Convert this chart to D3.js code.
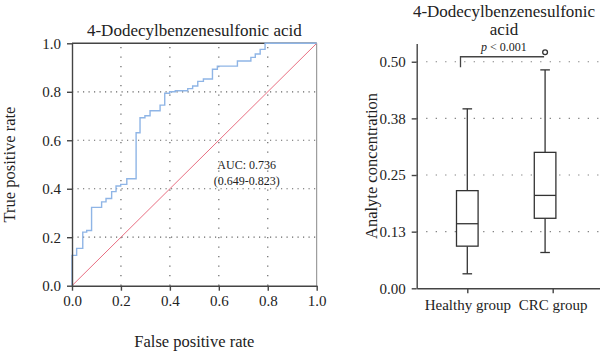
<!DOCTYPE html>
<html>
<head>
<meta charset="utf-8">
<script src="https://cdn.jsdelivr.net/npm/d3@7"></script>
<style>
  body { margin: 0; background: #fff; }
  svg { display: block; font-family: "Liberation Serif", "Times New Roman", serif; }
  .axis path, .axis line { stroke: #444; stroke-width: 1.4; }
  .axis text { font-family: "Liberation Serif", "Times New Roman", serif; font-size: 15px; fill: #222; }
</style>
</head>
<body>
<svg id="chart" width="600" height="354"></svg>
<script>
// ROC curve corners (fpr, tpr), drawn as steps
const rocFpr = [0, 0, 0.019, 0.044, 0.060, 0.080, 0.121, 0.139, 0.162, 0.180, 0.199, 0.224,
  0.262, 0.278, 0.298, 0.319, 0.360, 0.379, 0.399, 0.422, 0.473, 0.493, 0.514, 0.537,
  0.574, 0.594, 0.676, 0.731, 0.749, 0.769, 0.789, 1.0];
const rocTpr = [0, 0.125, 0.154, 0.221, 0.228, 0.323, 0.346, 0.360, 0.388, 0.411, 0.418, 0.441,
  0.631, 0.693, 0.701, 0.722, 0.745, 0.794, 0.800, 0.804, 0.813, 0.824, 0.843, 0.853,
  0.893, 0.906, 0.927, 0.942, 0.956, 0.975, 1.0, 1.0];
const rocTicks = [0, 0.2, 0.4, 0.6, 0.8, 1.0];
const aucLines = ["AUC: 0.736", "(0.649-0.823)"];

// box plot summary per group
const groups = ["Healthy group", "CRC group"];
const whiskLow = [0.032, 0.079];
const q1 = [0.093, 0.1545];
const median = [0.1425, 0.205];
const q3 = [0.2155, 0.300];
const whiskHigh = [0.396, 0.482];
const outliers = [[], [0.521]];
const boxTicks = [0, 0.125, 0.25, 0.375, 0.5];
const pText = "< 0.001";

const title = "4-Dodecylbenzenesulfonic acid";

const svg = d3.select("#chart");

// ---------- ROC panel ----------
const roc = {left: 72, right: 316.7, top: 43.3, bottom: 285.7};
const x = d3.scaleLinear().domain([0, 1]).range([roc.left, roc.right]);
const y = d3.scaleLinear().domain([0, 1]).range([roc.bottom, roc.top]);

const grid = svg.append("g").attr("stroke", "#666").attr("stroke-width", 1.2);
rocTicks.slice(1, -1).forEach(t => {
  grid.append("line").attr("x1", x(t)).attr("x2", x(t)).attr("y1", y(0)).attr("y2", y(1))
    .attr("stroke-dasharray", "1.2,8.3");
  grid.append("line").attr("x1", x(0)).attr("x2", x(1)).attr("y1", y(t)).attr("y2", y(t))
    .attr("stroke-dasharray", "1.2,4.3");
});

// frame top and right
svg.append("line").attr("x1", x(0)).attr("x2", x(1)).attr("y1", y(1)).attr("y2", y(1))
  .attr("stroke", "#444").attr("stroke-width", 1.4);
svg.append("line").attr("x1", x(1)).attr("x2", x(1)).attr("y1", y(0)).attr("y2", y(1))
  .attr("stroke", "#888").attr("stroke-width", 1);

// diagonal
svg.append("line").attr("x1", x(0)).attr("y1", y(0)).attr("x2", x(1)).attr("y2", y(1))
  .attr("stroke", "#e86f82").attr("stroke-width", 1);

const rocData = rocFpr.map((f, i) => ({f: f, t: rocTpr[i]}));
svg.append("path").datum(rocData)
  .attr("fill", "none").attr("stroke", "#8fb5e6").attr("stroke-width", 1.4)
  .attr("d", d3.line().x(d => x(d.f)).y(d => y(d.t)).curve(d3.curveStepAfter));

const fmt1 = d3.format(".1f");
svg.append("g").attr("class", "axis").attr("transform", `translate(0,${roc.bottom})`)
  .call(d3.axisBottom(x).tickValues(rocTicks).tickFormat(fmt1).tickSize(5).tickPadding(5).tickSizeOuter(0));
svg.append("g").attr("class", "axis").attr("transform", `translate(${roc.left},0)`)
  .call(d3.axisLeft(y).tickValues(rocTicks).tickFormat(fmt1).tickSize(5).tickPadding(6).tickSizeOuter(0));
svg.selectAll(".axis .domain").attr("stroke-width", 1.6);

svg.append("text").attr("x", (roc.left + roc.right) / 2).attr("y", 36)
  .attr("text-anchor", "middle").attr("font-size", 17).attr("fill", "#222").text(title);
svg.append("text").attr("x", (roc.left + roc.right) / 2).attr("y", 347)
  .attr("text-anchor", "middle").attr("font-size", 16.5).attr("fill", "#222").text("False positive rate");
svg.append("text").attr("transform", `translate(15,${(roc.top + roc.bottom) / 2}) rotate(-90)`)
  .attr("text-anchor", "middle").attr("font-size", 16.5).attr("fill", "#222").text("True positive rate");
aucLines.forEach((s, i) => {
  svg.append("text").attr("x", 246.7).attr("y", 169 + i * 15.5)
    .attr("text-anchor", "middle").attr("font-size", 12).attr("fill", "#222").text(s);
});

// ---------- box panel ----------
const bp = {left: 416.7, right: 600, top: 43.6, bottom: 288.3};
const by = d3.scaleLinear().domain([0, 0.54]).range([bp.bottom, bp.top]);
const bx = d3.scaleLinear().domain([0.4075, 2.554]).range([bp.left, bp.right]);
const boxShift = [0, -7.6];
const boxW = 21.6, capW = 9.6;

const bgrid = svg.append("g").attr("stroke", "#777").attr("stroke-width", 1.2)
  .attr("stroke-dasharray", "1.2,8.3");
boxTicks.slice(1).forEach(t => {
  bgrid.append("line").attr("x1", bp.left).attr("x2", bp.right).attr("y1", by(t)).attr("y2", by(t));
});

const fmt2 = d3.format(".2f");
svg.append("g").attr("class", "axis").attr("transform", `translate(0,${bp.bottom})`)
  .call(d3.axisBottom(bx).tickValues([1, 2]).tickFormat(d => groups[d - 1]).tickSize(5).tickPadding(6).tickSizeOuter(0));
svg.append("g").attr("class", "axis").attr("transform", `translate(${bp.left},0)`)
  .call(d3.axisLeft(by).tickValues(boxTicks).tickFormat(d => fmt2(Math.round(d * 100 + 1e-9) / 100)).tickSize(5).tickPadding(6).tickSizeOuter(0));
svg.selectAll(".axis .domain").attr("stroke-width", 1.6);

const boxes = svg.append("g").attr("stroke", "#333").attr("stroke-width", 1.3).attr("fill", "none");
groups.forEach((g, i) => {
  const cx = bx(i + 1) + boxShift[i];
  boxes.append("line").attr("x1", cx).attr("x2", cx).attr("y1", by(whiskLow[i])).attr("y2", by(q1[i]));
  boxes.append("line").attr("x1", cx).attr("x2", cx).attr("y1", by(q3[i])).attr("y2", by(whiskHigh[i]));
  [whiskLow[i], whiskHigh[i]].forEach(v => {
    boxes.append("line").attr("x1", cx - capW / 2).attr("x2", cx + capW / 2).attr("y1", by(v)).attr("y2", by(v));
  });
  boxes.append("rect").attr("x", cx - boxW / 2).attr("width", boxW)
    .attr("y", by(q3[i])).attr("height", by(q1[i]) - by(q3[i])).attr("fill", "#fff");
  boxes.append("line").attr("x1", cx - boxW / 2).attr("x2", cx + boxW / 2).attr("y1", by(median[i])).attr("y2", by(median[i]));
  outliers[i].forEach(v => {
    boxes.append("circle").attr("cx", cx).attr("cy", by(v)).attr("r", 2.4).attr("fill", "#fff");
  });
});

// significance bracket
const bL = bx(1) - 6.8, bR = bx(2) + boxShift[1];
const bTop = by(0.511), bLeg = by(0.4877);
svg.append("path").attr("fill", "none").attr("stroke", "#444").attr("stroke-width", 1.3)
  .attr("d", `M${bL},${bLeg}V${bTop}H${bR - 1}`);
const pt = svg.append("text").attr("x", (bL + bR) / 2 + 1).attr("y", bTop - 6)
  .attr("text-anchor", "middle").attr("font-size", 12).attr("fill", "#222");
pt.append("tspan").attr("font-style", "italic").text("p");
pt.append("tspan").text(" " + pText);

const tx = 504;
svg.append("text").attr("x", tx).attr("y", 17).attr("text-anchor", "middle")
  .attr("font-size", 17).attr("fill", "#222").text("4-Dodecylbenzenesulfonic");
svg.append("text").attr("x", tx).attr("y", 35).attr("text-anchor", "middle")
  .attr("font-size", 17).attr("fill", "#222").text("acid");
svg.append("text").attr("transform", `translate(377,${(bp.top + bp.bottom) / 2}) rotate(-90)`)
  .attr("text-anchor", "middle").attr("font-size", 16.5).attr("fill", "#222").text("Analyte concentration");
</script>
</body>
</html>
